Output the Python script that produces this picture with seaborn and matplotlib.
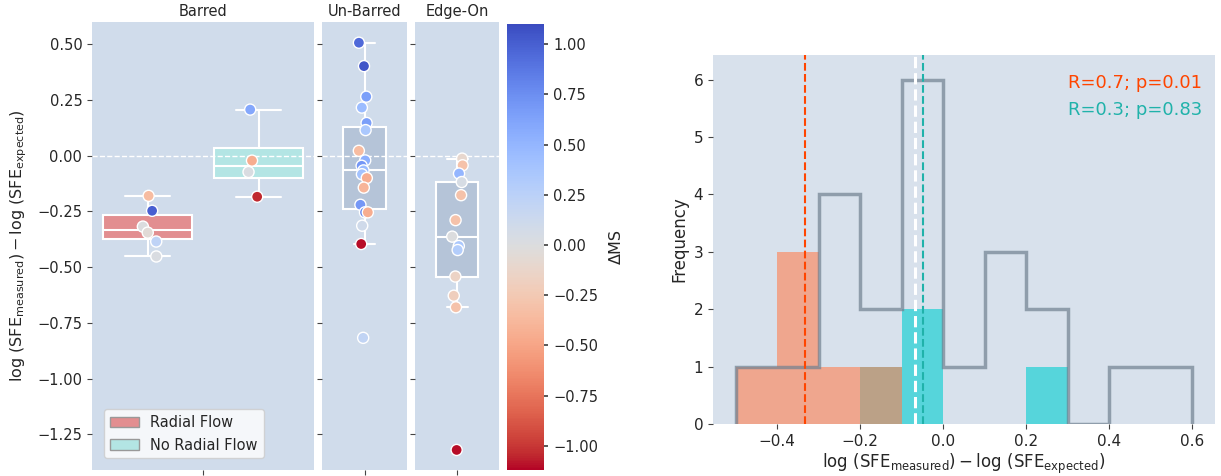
import numpy as np
import pandas as pd
import matplotlib
matplotlib.use("Agg")
import matplotlib.pyplot as plt
import seaborn as sns
from matplotlib.patches import Patch
from matplotlib.colors import Normalize
from matplotlib.cm import ScalarMappable

# ---------------- data: left panels ----------------
radial_vals = [-0.180, -0.247, -0.318, -0.345, -0.385, -0.452]
radial_dms = [-0.35, 1.00, 0.00, -0.05, 0.22, 0.02]
noradial_vals = [0.207, -0.022, -0.073, -0.184]
noradial_dms = [0.60, -0.45, 0.02, -1.05]

unbarred_vals = [0.507, 0.402, 0.265, 0.216, 0.147, 0.115, 0.022, -0.021, -0.045,
                 -0.066, -0.083, -0.100, -0.143, -0.220, -0.254, -0.254, -0.314,
                 -0.396, -0.817]
unbarred_dms = [0.95, 1.05, 0.65, 0.45, 0.65, 0.35, -0.35, 0.55, 0.70,
                0.45, 0.40, -0.45, -0.40, 0.70, 0.80, -0.45, 0.10,
                -1.10, 0.20]

edgeon_vals = [-0.013, -0.043, -0.080, -0.118, -0.177, -0.289, -0.363, -0.405,
               -0.423, -0.542, -0.628, -0.680, -1.320]
edgeon_dms = [-0.10, -0.30, 0.50, 0.05, -0.30, -0.30, 0.00, 0.35,
              0.30, -0.15, -0.20, -0.30, -1.10]

flow_labels = ["Radial Flow", "No Radial Flow"]
panel_titles = ["Barred", "Un-Barred", "Edge-On"]
cbar_ticks = [-1.00, -0.75, -0.50, -0.25, 0.00, 0.25, 0.50, 0.75, 1.00]
ytick_vals = [-1.25, -1.00, -0.75, -0.50, -0.25, 0.00, 0.25, 0.50]

# ---------------- data: histogram ----------------
bin_edges = [-0.5, -0.4, -0.3, -0.2, -0.1, 0.0, 0.1, 0.2, 0.3, 0.4, 0.5, 0.6]
all_counts = [1, 1, 4, 2, 6, 1, 3, 2, 0, 1, 1]
radial_counts = [1, 3, 1, 1, 0, 0, 0, 0, 0, 0, 0]
noradial_counts = [0, 0, 0, 1, 2, 0, 0, 1, 0, 0, 0]
radial_median = -0.333
noradial_median = -0.049
all_median = -0.068
stat_texts = ["R=0.7; p=0.01", "R=0.3; p=0.83"]

# ---------------- style ----------------
sns.set_theme(style="ticks")
plt.rcParams["font.family"] = ["DejaVu Sans"]
plt.rcParams["mathtext.fontset"] = "dejavusans"

W, H = 1221, 476
fig = plt.figure(figsize=(W / 100, H / 100), dpi=100)


def box(l, r, t, b):
    return [l / W, 1 - b / H, (r - l) / W, (b - t) / H]


ax_b = fig.add_axes(box(92, 314, 22, 470))
ax_u = fig.add_axes(box(322, 407, 22, 470), sharey=ax_b)
ax_e = fig.add_axes(box(415, 499, 22, 470), sharey=ax_b)
cax = fig.add_axes(box(507, 544, 24, 470))
ax_h = fig.add_axes(box(713, 1215, 55, 424))

left_bg = "#d0dceb"
right_bg = "#d8e1ec"
box_colors = {"Radial Flow": "#e28e90", "No Radial Flow": "#b3e5e4"}
vmin, vmax = -1.12, 1.10
cmap = "coolwarm_r"

df_b = pd.DataFrame({
    "flow": [flow_labels[0]] * len(radial_vals) + [flow_labels[1]] * len(noradial_vals),
    "val": radial_vals + noradial_vals,
    "dms": radial_dms + noradial_dms,
})
df_u = pd.DataFrame({"grp": "Un-Barred", "val": unbarred_vals, "dms": unbarred_dms})
df_e = pd.DataFrame({"grp": "Edge-On", "val": edgeon_vals, "dms": edgeon_dms})

np.random.seed(3)
box_kw = dict(saturation=1, linecolor="white", linewidth=1.5, showfliers=False)
strip_kw = dict(palette=cmap, hue_norm=(vmin, vmax), size=8, edgecolor="white",
                linewidth=1, legend=False, zorder=3)

sns.boxplot(data=df_b, x="flow", y="val", hue="flow", order=flow_labels,
            palette=box_colors, width=0.8, legend=False, ax=ax_b, **box_kw)
sns.stripplot(data=df_b, x="flow", y="val", hue="dms", order=flow_labels,
              jitter=0.1, ax=ax_b, **strip_kw)

for ax, df in [(ax_u, df_u), (ax_e, df_e)]:
    sns.boxplot(data=df, x="grp", y="val", color="#b5c4d8", width=0.5, ax=ax, **box_kw)
    sns.stripplot(data=df, x="grp", y="val", hue="dms", jitter=0.07, ax=ax, **strip_kw)

for ax, title in zip([ax_b, ax_u, ax_e], panel_titles):
    ax.set_facecolor(left_bg)
    ax.axhline(0, color="white", ls="--", lw=1.0, zorder=2.5)
    ax.set_title(title, fontsize=10.5, pad=4)
    ax.set_xlabel("")
    ax.set_ylabel("")
    for s in ax.spines.values():
        s.set_visible(False)
    ax.tick_params(axis="both", length=3.5, width=0.8, color="#444444", labelsize=10.5)

ax_b.set_xticks([0.5])
ax_b.set_xticklabels([""])
ax_u.set_xticks([0])
ax_u.set_xticklabels([""])
ax_e.set_xticks([0])
ax_e.set_xticklabels([""])
ax_b.set_xlim(-0.5, 1.5)
ax_u.set_xlim(-0.5, 0.5)
ax_e.set_xlim(-0.5, 0.5)
ax_b.set_yticks(ytick_vals)
ax_b.set_yticklabels([f"{v:.2f}".replace("-", "\u2212") for v in ytick_vals])
ax_u.tick_params(labelleft=False)
ax_e.tick_params(labelleft=False)
ax_b.set_ylim(-1.41, 0.60)
ax_b.set_ylabel(r"$\log\,(\mathrm{SFE}_{\mathrm{measured}}) - \log\,(\mathrm{SFE}_{\mathrm{expected}})$",
                fontsize=11.5, labelpad=6)

ax_b.legend(handles=[Patch(facecolor=box_colors[k], edgecolor="#999999", label=k) for k in flow_labels],
            loc="lower left", fontsize=10.5, frameon=True, facecolor="white", framealpha=0.8,
            edgecolor="#cccccc", borderaxespad=0.8)

sm = ScalarMappable(norm=Normalize(vmin, vmax), cmap=cmap)
cb = fig.colorbar(sm, cax=cax)
cb.outline.set_visible(False)
cb.set_ticks(cbar_ticks)
cb.set_ticklabels([f"{v:.2f}".replace("-", "\u2212") for v in cbar_ticks])
cb.ax.tick_params(labelsize=10.5, length=3, color="#444444")
cb.set_label("\u0394MS", fontsize=11.5, labelpad=8)

# ---------------- right panel ----------------
centers = [(a + b) / 2 for a, b in zip(bin_edges[:-1], bin_edges[1:])]
ax_h.set_facecolor(right_bg)
sns.histplot(x=centers, weights=noradial_counts, bins=bin_edges, color="darkturquoise",
             alpha=0.6, linewidth=0, ax=ax_h)
sns.histplot(x=centers, weights=radial_counts, bins=bin_edges, color="coral",
             alpha=0.6, linewidth=0, ax=ax_h)
ax_h.hist(centers, bins=bin_edges, weights=all_counts, histtype="step",
          color="slategray", alpha=0.7, lw=2.5)
ax_h.axvline(radial_median, color="orangered", ls="--", lw=1.5)
ax_h.axvline(noradial_median, color="lightseagreen", ls="--", lw=1.5)
ax_h.axvline(all_median, color="white", ls="--", lw=2.2)
ax_h.text(0.975, 0.925, stat_texts[0], transform=ax_h.transAxes, ha="right", va="center",
          color="orangered", fontsize=13)
ax_h.text(0.975, 0.85, stat_texts[1], transform=ax_h.transAxes, ha="right", va="center",
          color="lightseagreen", fontsize=13)
ax_h.set_xlim(-0.555, 0.655)
ax_h.set_ylim(0, 6.43)
ax_h.set_ylabel("Frequency", fontsize=12)
ax_h.set_xlabel(r"$\log\,(\mathrm{SFE}_{\mathrm{measured}}) - \log\,(\mathrm{SFE}_{\mathrm{expected}})$",
                fontsize=12, labelpad=2)
for s in ax_h.spines.values():
    s.set_visible(False)
ax_h.tick_params(axis="both", length=3.5, width=0.8, color="#444444", labelsize=11)

fig.savefig("out.png", dpi=100)
